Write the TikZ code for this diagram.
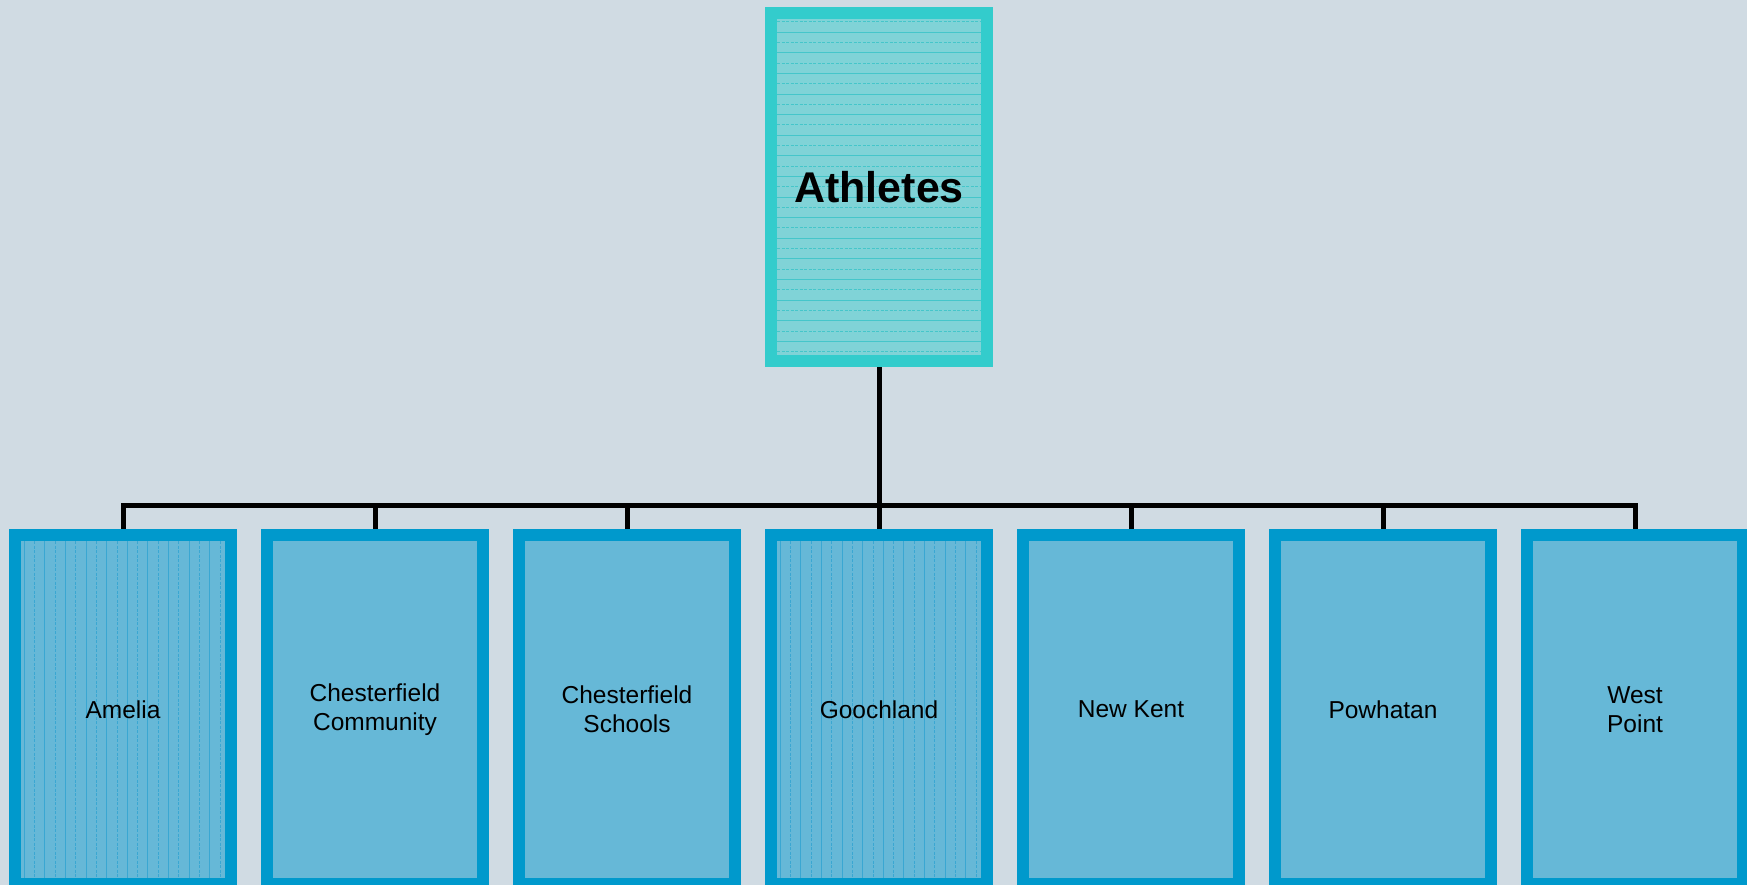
\documentclass[tikz,border=0pt]{standalone}
\usepackage{fontspec}
\setmainfont{Liberation Sans}
\definecolor{bgc}{HTML}{D0DBE3}
\definecolor{topborder}{HTML}{33CCCC}
\definecolor{topfill}{HTML}{80D3D7}
\definecolor{topline}{HTML}{45C6CA}
\definecolor{botborder}{HTML}{0099CC}
\definecolor{botfill}{HTML}{66B8D7}
\definecolor{botline}{HTML}{3AA7D2}
\tikzset{
  rootbox/.style={draw=topborder, fill=topfill, line width=12pt, minimum width=216pt, minimum height=348pt, inner sep=0pt, font=\fontsize{43}{50}\selectfont\bfseries, align=center},
  leafbox/.style={draw=botborder, fill=botfill, line width=12pt, minimum width=216pt, minimum height=349pt, inner sep=0pt, font=\fontsize{24.5}{29}\selectfont, align=center},
  conn/.style={draw=black, line width=5pt, line join=miter},
  hatchT/.style={draw=topline, line width=1pt},
  hatchB/.style={draw=botline, line width=1pt}
}
\begin{document}
\begin{tikzpicture}[x=1pt, y=-1pt]
\useasboundingbox (0,0) rectangle (1747,885);
\clip (0,0) rectangle (1747,885);
\fill[bgc] (0,0) rectangle (1747,885);
% root
\node[rootbox] (root) at (879,187) {};
\begin{scope}
  \clip (777,19) rectangle (981,355);
  \foreach \k in {0,...,32} {
    \pgfmathsetmacro{\yy}{22+10.3*\k}
    \ifodd\k
      \draw[hatchT] (777,\yy) -- (981,\yy);
    \else
      \draw[hatchT, dash pattern=on 3pt off 1.5pt] (777,\yy) -- (981,\yy);
    \fi
  }
\end{scope}
\node[font=\fontsize{43}{50}\selectfont\bfseries] (roottext) at (root.center) {Athletes};
% leaves
\node[leafbox] (b1) at (123,709.5) {};
\node[leafbox] (b2) at (375,709.5) {Chesterfield\\Community};
\node[leafbox] (b3) at (627,709.5) {Chesterfield\\Schools};
\node[leafbox] (b4) at (879,709.5) {};
\node[leafbox] (b5) at (1131,709.5) {New Kent};
\node[leafbox] (b6) at (1383,709.5) {Powhatan};
\node[leafbox] (b7) at (1635,709.5) {West\\Point};
% vertical hatch on Amelia and Goochland
\foreach \ox in {0,756} {
  \begin{scope}[xshift=\ox]
    \clip (21,541) rectangle (225,878);
    \foreach \k in {0,...,19} {
      \pgfmathsetmacro{\xx}{24.3+10.3*\k}
      \ifodd\k
        \draw[hatchB, dash pattern=on 3pt off 1.5pt] (\xx,541) -- (\xx,878);
      \else
        \draw[hatchB] (\xx,541) -- (\xx,878);
      \fi
    }
  \end{scope}
}
\node[font=\fontsize{24.5}{29}\selectfont] (t1) at (b1.center) {Amelia};
\node[font=\fontsize{24.5}{29}\selectfont] (t4) at (b4.center) {Goochland};
% connectors
\coordinate (bus) at (879,505);
\draw[conn] (root.south) -- (bus);
\draw[conn] (b1.north) -- (b1.north |- bus) -- (b7.north |- bus) -- (b7.north);
\foreach \n in {b2,b3,b4,b5,b6} {
  \draw[conn] (\n.north) -- (\n.north |- bus);
}
\end{tikzpicture}
\end{document}
